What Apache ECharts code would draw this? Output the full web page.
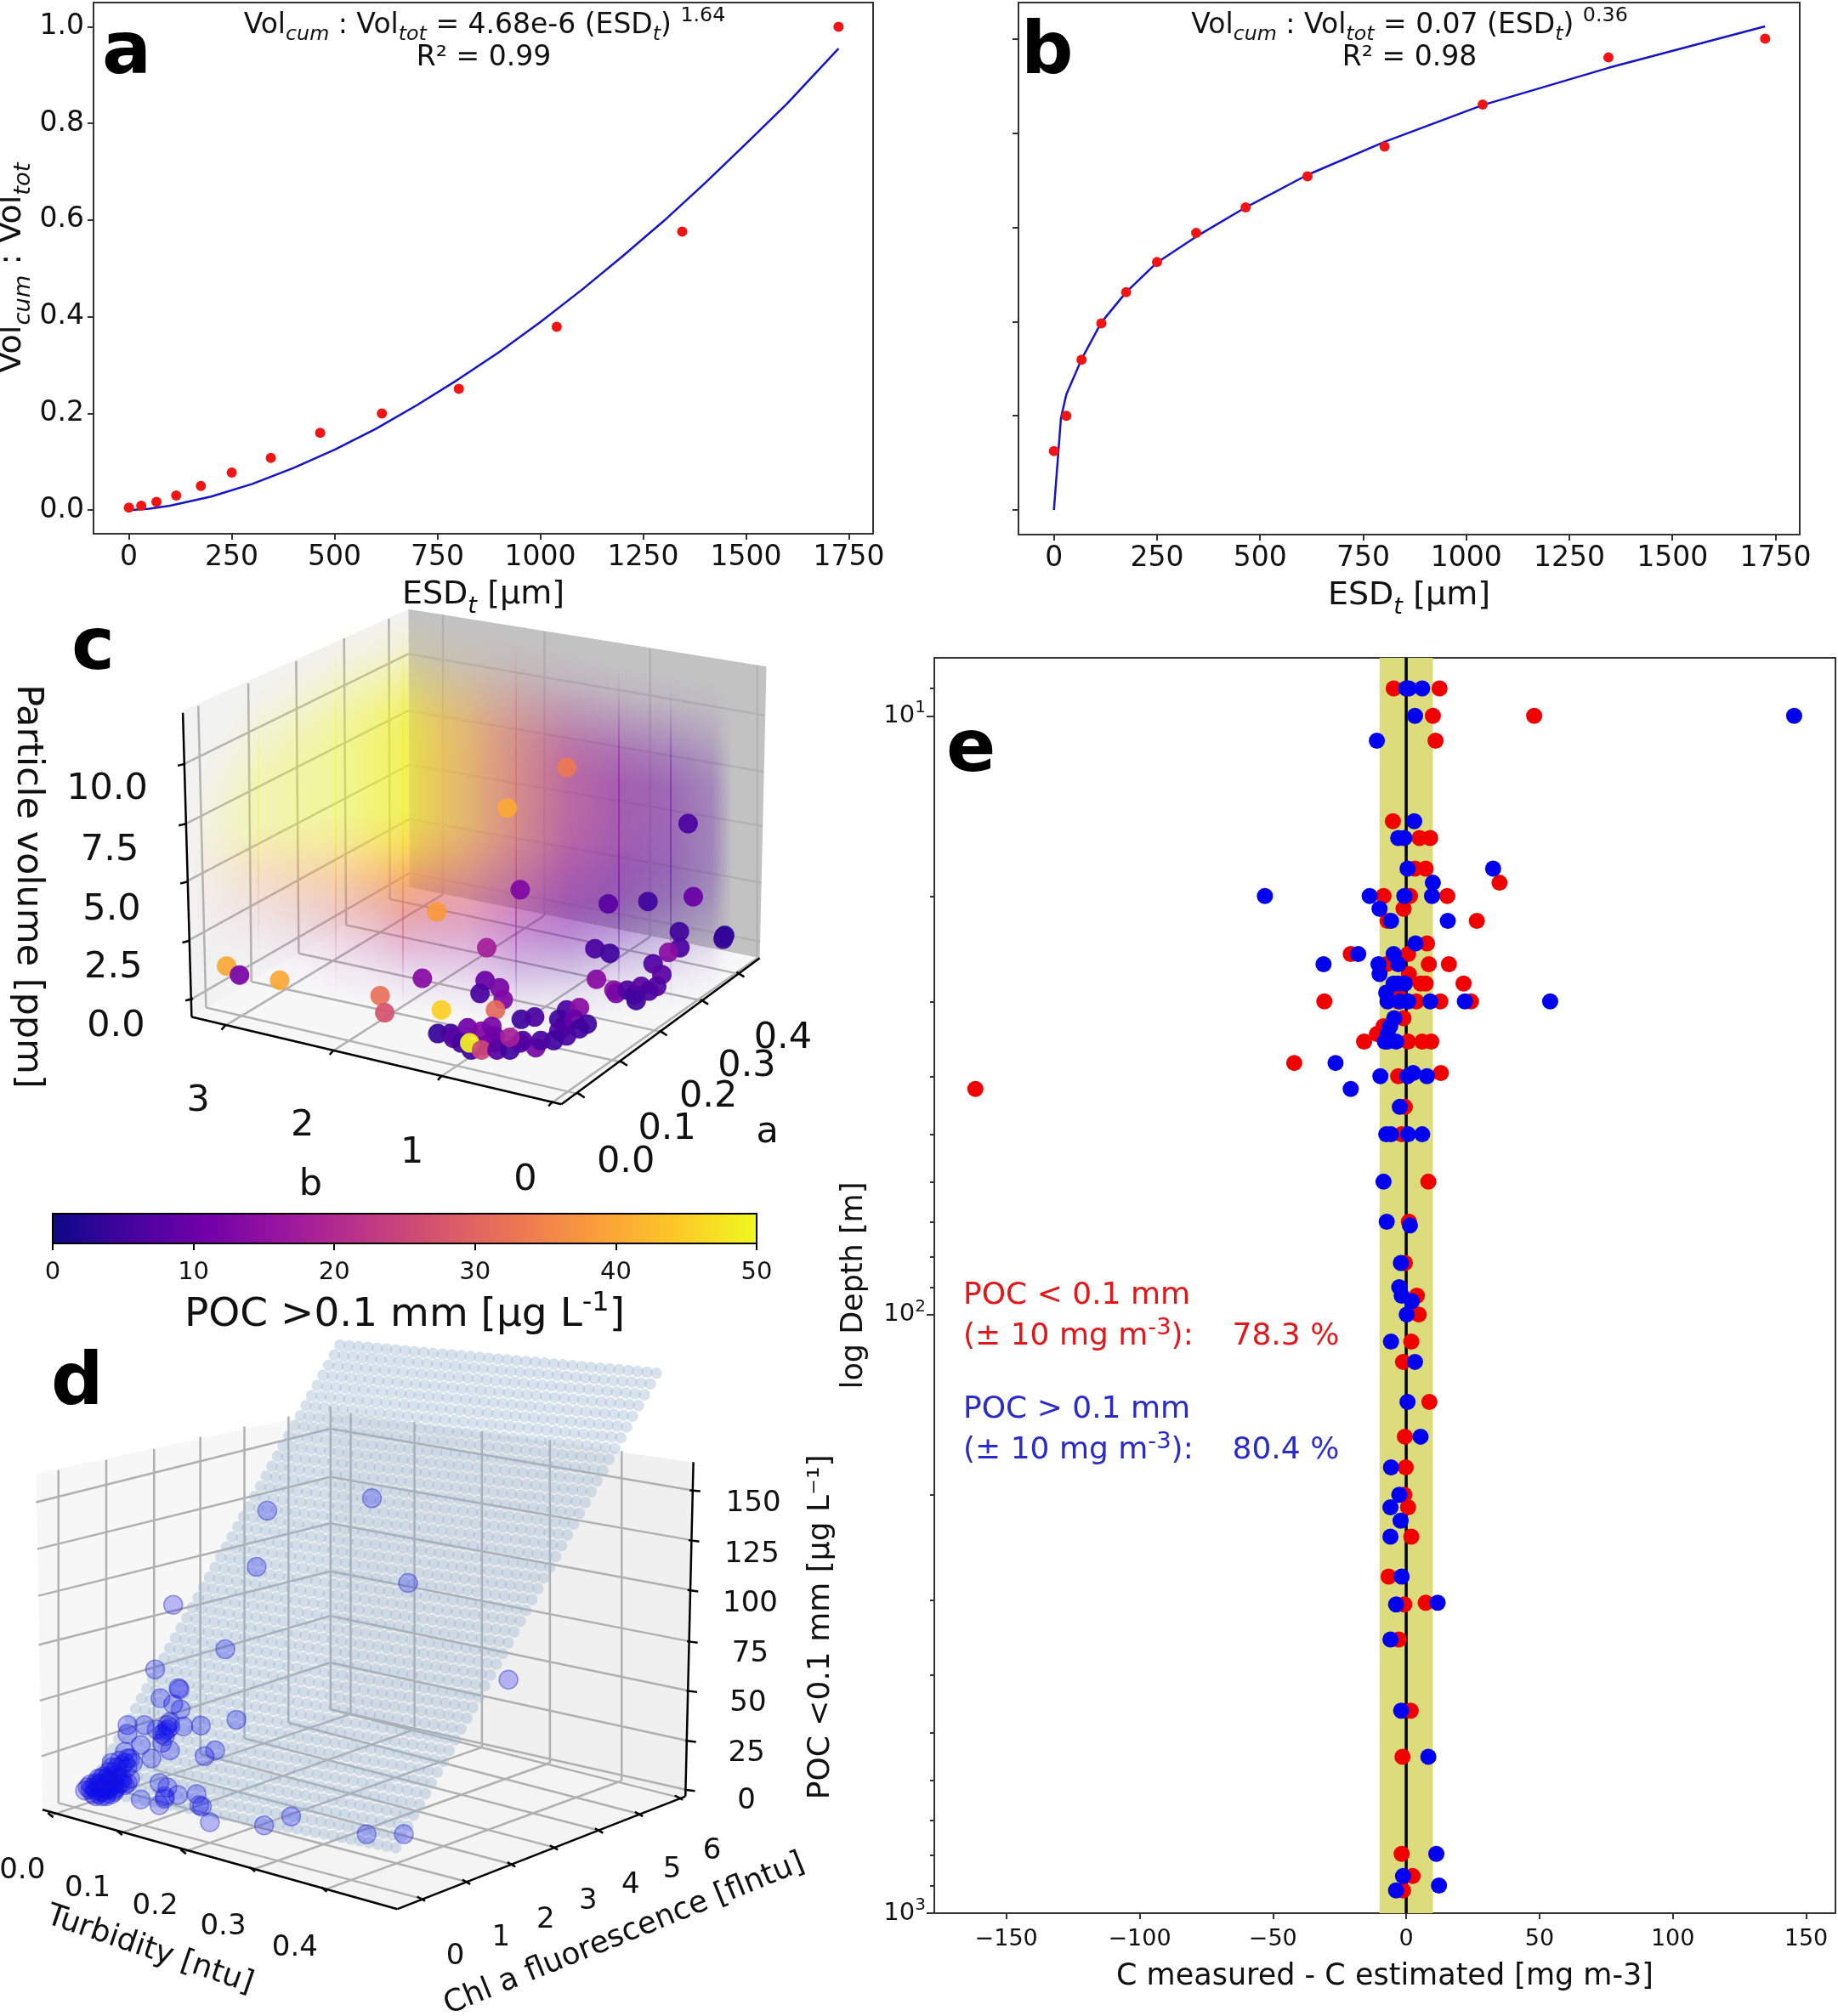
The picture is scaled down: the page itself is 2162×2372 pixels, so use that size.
<!DOCTYPE html>
<html><head><meta charset="utf-8">
<script src="https://cdn.jsdelivr.net/npm/echarts@6/dist/echarts.min.js"></script>
<style>html,body{margin:0;padding:0;background:#fff}#c{width:2162px;height:2372px}</style>
</head><body><div id="c"></div>
<script>
// ---------- panels a, b ----------
const esd = [0,30,67,115,175,250,345,465,615,802,1040,1345,1725];
const volA = [0.005,0.009,0.017,0.03,0.05,0.0775,0.108,0.16,0.2,0.251,0.379,0.576,1.0];
const volB = [0.125,0.2,0.319,0.396,0.462,0.526,0.588,0.642,0.708,0.771,0.86,0.96,1.0];
const fitAx = [0,50,100,200,300,400,500,600,700,800,900,1000,1100,1200,1300,1400,1500,1600,1725];
const fitAy = [0,0.003,0.009,0.028,0.054,0.087,0.125,0.168,0.217,0.27,0.327,0.389,0.455,0.525,0.598,0.676,0.758,0.841,0.955];
const fitBx = [0,17,30,67,115,175,250,345,465,615,802,1040,1345,1725];
const fitBy = [0,0.195,0.245,0.32,0.398,0.462,0.525,0.58,0.642,0.711,0.781,0.859,0.938,1.026];
const esdTicks = [0,250,500,750,1000,1250,1500,1750];
const ratioTicks = [0,0.2,0.4,0.6,0.8,1.0];
// ---------- panel e: [C measured - C estimated, depth] ----------
const redE = [[-4.7,9],[12.5,9],[10,10],[48,10],[11,11],[-5,15],[5,16],[9,16],[3.3,18],[7.3,18],[35,19],[-8.5,20],[1.4,20],[15.4,20],[-1,21],[-7,22],[26.5,22],[7.8,24],[-20.8,25],[0.7,25],[-7.5,26],[8.5,26],[16,26],[1,27],[5.4,28],[7.3,28],[21.5,28],[-3,29],[-30.7,30],[-3,30],[3.8,30],[12.8,30],[24.3,30],[-1,32],[-8.5,33],[-11,34],[-15.8,35],[0.7,35],[6,35],[9.4,35],[-42,38],[13,39.5],[-3,40],[-161.6,42],[-0.5,45],[-1.7,50],[8.3,60],[1,70],[-0.5,82],[4,93],[4.7,100],[1.9,111],[-1.2,120],[8.7,140],[-0.5,160],[-0.2,180],[-0.7,200],[0.7,210],[1.9,235],[-6.6,274],[7.3,303],[-0.7,305],[-2.8,349],[1.7,459],[-1.4,548],[-1.7,796],[2.4,867],[-1.2,916]];
const blueE = [[0,9],[1,9],[6,9],[3.3,10],[145.5,10],[-11,11],[3,15],[-3,16],[-0.7,16],[0.5,18],[32.6,18],[10,19],[-53,20],[-13.7,20],[-0.7,20],[9.7,20],[-10,21],[-5.7,22],[15.6,22],[3.5,24],[-18,25],[-4.7,25],[-31,26],[-10.4,26],[-3,26],[-10,27],[-4.7,28],[-0.5,28],[-3,28],[-7.5,29],[-7,30],[-2.4,30],[0.7,30],[9,30],[22,30],[54,30],[-4.5,32],[-6,33],[-7,34],[-8,35],[-7,35],[-3.8,35],[-26.5,38],[2.6,39.5],[-9.7,40],[0.5,40],[7.8,40],[-20.8,42],[-2.4,45],[-7.5,50],[-5.7,50],[0.7,50],[6,50],[-8.5,60],[-7.3,70],[1.4,71],[-2,82],[-2.6,90],[-1.7,93],[2.1,95],[0.2,100],[-5.7,111],[3.3,120],[0.5,140],[5.4,160],[-5.7,180],[-2.6,200],[-5.9,210],[-2.1,221],[-5.9,235],[-1.7,274],[11.8,303],[-3.8,305],[-5.9,349],[-1.9,459],[8.3,548],[11.3,796],[-1.2,867],[12.3,899],[-3.8,916]];
const diffTicks = [-150,-100,-50,0,50,100,150];
const depthMajor = [10,100,1000];
const depthMinor = [9,20,30,40,50,60,70,80,90,200,300,400,500,600,700,800,900];
// ---------- panel c: [view x, view y, POC > 0.1 mm] ----------
const pocC = [[1100,366,33],[985,452,40],[1336,485,6],[1010,625,13],[1181,655,8],[1258,650,5],[1346,640,10],[848,672,38],[1319,714,5],[1405,725,3],[1407,722,3],[1404,730,4],[945,748,18],[1155,750,6],[1184,760,5],[1320,748,6],[1298,758,14],[1268,782,7],[1285,805,8],[440,787,40],[465,806,12],[543,817,40],[820,813,14],[738,850,32],[747,886,27],[857,880,45],[942,818,10],[970,833,12],[977,858,13],[932,845,6],[962,880,31],[1158,815,14],[1192,838,14],[1196,845,12],[1218,838,7],[1232,848,5],[1245,830,8],[1235,860,5],[1260,840,6],[1275,830,7],[1012,900,5],[1038,895,6],[1100,880,6],[1125,875,14],[1085,900,5],[1095,915,5],[1115,900,10],[1085,925,7],[1140,910,5],[1125,920,5],[1100,935,6],[1075,945,5],[850,930,4],[875,930,5],[880,940,8],[908,918,11],[935,925,13],[955,915,12],[960,935,11],[960,950,10],[940,955,12],[895,950,5],[915,965,5],[912,950,49],[935,965,25],[965,965,8],[990,965,5],[1010,950,7],[1040,960,12],[1050,945,6],[1015,945,7],[990,938,18]];
const colorbarTicks = [0,10,20,30,40,50];
const plasma = ['#0d0887','#46039f','#7201a8','#9c179e','#bd3786','#d8576b','#ed7953','#fb9f3a','#fdca26','#f0f921'];
const cloudX = [380,500,650,780,900,1000,1100,1200,1300,1380,1420];
const cloudPOC = [50,50,50,49,41,30,21,15,11,9,7];
const cloudAlpha = [0.05,0.3,0.42,0.72,0.58,0.56,0.6,0.56,0.46,0.32,0];
const cloudTop = [300,170,70,40,70,90,120,150,170,180,190];
const cloudBottom = [800,800,860,880,900,930,920,900,880,860,820];
const cWalls = [
 [[355,245],[793,30],[795,620],[372,895],'#f2f2f2'],
 [[793,30],[1488,152],[1475,770],[795,620],'#c2c2c2'],
 [[372,895],[795,620],[1475,770],[1090,1080],'#f7f7f7']];
const cGrid = [
 [355,360,793,125],[358,487,793,245],[358,610,795,360],[362,735,795,475],[370,858,795,590],
 [793,125,1484,255],[793,245,1482,375],[795,360,1480,490],[795,475,1478,610],[795,590,1476,735],
 [385,235,400,875],[482,188,488,820],[575,140,580,760],[668,92,672,700],[755,50,757,645],
 [860,42,860,635],[1057,78,1057,680],[1262,114,1262,725],[1470,150,1470,770],
 [400,875,1130,1060],[488,820,1213,992],[580,760,1290,928],[672,700,1370,862],[757,645,1440,805],
 [435,915,860,635],[645,968,1057,680],[855,1022,1262,725],[1070,1078,1470,770]];
const cAxes = [[355,250,372,895],[372,895,1090,1080],[1090,1080,1475,770],
 [345,362,360,358],[347,489,362,485],[350,612,365,608],[354,737,369,733],[360,860,375,856],
 [430,922,438,912],[640,975,648,965],[850,1029,858,1019],[1065,1084,1073,1074],
 [1120,1055,1135,1066],[1203,988,1218,998],[1280,924,1295,934],[1360,858,1375,868],[1430,800,1445,810]];
const cLabels = [['10.0',208,413,0],['7.5',213,543,0],['5.0',217,668,0],['2.5',220,790,0],['0.0',225,916,0],
 ['3',385,1073,0],['2',587,1126,0],['1',800,1183,0],['0',1020,1241,0],['b',603,1252,0],
 ['0.0',1215,1204,0],['0.1',1295,1133,0],['0.2',1375,1064,0],['0.3',1450,1000,0],['0.4',1520,940,0],['a',1490,1140,0],
 ['Particle volume [ppm]',53,618,-1.5708]];
// ---------- panel d: [view x, view y] ----------
const pocD = [[700,406],[503,434],[483,560],[768,596],[326,645],[424,745],[292,790],[957,813],[336,832],[338,835],[302,855],[326,868],[340,880],[445,903],[378,916],[345,918],[320,908],[315,925],[240,915],[272,915],[240,935],[295,925],[310,940],[305,955],[265,960],[235,975],[320,972],[405,972],[385,985],[285,990],[245,990],[225,995],[210,1000],[240,1010],[220,1025],[245,1035],[190,1035],[205,1050],[180,1060],[215,1060],[235,1050],[160,1062],[200,1075],[175,1070],[190,1050],[205,1040],[230,1045],[300,1045],[315,1055],[335,1072],[310,1080],[265,1082],[370,1070],[300,1095],[375,1095],[395,1133],[497,1140],[548,1120],[690,1160],[760,1160],[380,1098],[310,1075],[195,1030],[185,1048],[170,1048],[210,1070],[225,1045],[200,1060],[190,1065],[215,1040],[250,1000],[220,1010],[205,1020],[195,1055],[180,1045],[210,1050],[200,1045],[225,1030],[235,1000],[315,915],[305,935],[192,1075],[180,1075],[165,1055],[200,1035],[215,1050],[190,1045],[205,1060],[185,1058],[175,1055],[195,1065],[220,1055],[230,1035],[240,1045],[205,1030],[215,1020],[230,1005],[240,990],[210,1010],[185,1035],[195,1050],[205,1055],[200,1070],[215,1065],[170,1060],[185,1070],[320,920],[310,930]];
const planeCorners = [[640,62],[1235,125],[745,1190],[170,1060]];
const dWalls = [
 [[68,350],[622,210],[622,880],[80,1105],'#f7f7f7'],
 [[622,210],[1305,325],[1290,1075],[622,880],'#f0f0f0'],
 [[80,1105],[622,880],[1290,1075],[748,1328],'#f4f4f4']];
const dGrid = [
 [68,415,622,250],[70,520,622,358],[72,625,622,462],[73,735,622,570],[75,860,622,670],[78,985,622,775],
 [622,250,1303,388],[622,358,1301,500],[622,462,1299,612],[622,570,1297,727],[622,670,1295,838],[622,775,1293,950],[622,880,1291,1060],
 [110,343,110,1090],[200,320,200,1055],[290,295,290,1015],[377,268,377,980],[460,245,460,945],[543,222,543,910],[622,200,622,880],
 [660,215,660,890],[780,235,780,925],[907,255,907,965],[1035,275,1035,1000],[1170,300,1170,1040],
 [95,1118,660,890],[225,1158,780,925],[345,1200,907,965],[475,1240,1035,1000],[610,1285,1170,1040],
 [110,1090,795,1305],[200,1055,880,1267],[290,1015,965,1228],[377,980,1045,1190],[460,945,1130,1152],[543,910,1205,1115],[622,880,1280,1078]];
const dAxes = [[80,1105,748,1328],[748,1328,1290,1075],[1305,325,1290,1075],
 [1298,388,1318,390],[1296,500,1316,503],[1294,612,1314,615],[1293,727,1313,730],[1292,838,1312,841],[1290,950,1310,953],[1288,1060,1308,1063],
 [90,1112,100,1122],[220,1152,230,1162],[340,1194,350,1204],[470,1234,480,1244],[605,1279,615,1289],
 [785,1300,800,1310],[870,1262,885,1272],[955,1223,970,1233],[1035,1185,1050,1195],[1120,1147,1135,1157],[1195,1110,1210,1120],[1270,1073,1285,1083]];
const dLabels = [['150',1418,419,0,34],['125',1415,532,0,34],['100',1412,644,0,34],['75',1412,756,0,34],['50',1408,866,0,34],['25',1405,979,0,34],['0',1405,1086,0,34],
 ['0.0',42,1243,0,34],['0.1',165,1283,0,34],['0.2',292,1323,0,34],['0.3',420,1368,0,34],['0.4',555,1415,0,34],
 ['Turbidity [ntu]',282,1420,-0.33,36],
 ['0',857,1435,0,34],['1',943,1393,0,34],['2',1027,1353,0,34],['3',1107,1311,0,34],['4',1187,1275,0,34],['5',1265,1240,0,34],['6',1340,1198,0,34],
 ['Chl a fluorescence [flntu]',1175,1385,0.385,36],
 ['POC <0.1 mm [µg L⁻¹]',1545,695,1.5708,36]];

// ---------- helpers ----------
const FF = '"DejaVu Sans"';
const TXT = '#111';
function plasmaColor(v, alpha){
  const t = Math.max(0,Math.min(1,v/50))*(plasma.length-1), i=Math.min(plasma.length-2,Math.floor(t)), f=t-i;
  const h=c=>[1,3,5].map(k=>parseInt(c.substr(k,2),16));
  const a=h(plasma[i]), b=h(plasma[i+1]);
  return 'rgba('+a.map((x,k)=>Math.round(x+(b[k]-x)*f)).join(',')+','+alpha.toFixed(3)+')';
}
function segSeries(g,lines,color,width,z){
  return {type:'custom',xAxisIndex:g,yAxisIndex:g,z,silent:true,coordinateSystem:'cartesian2d',data:lines,
    encode:{x:[0,2],y:[1,3]},clip:false,
    renderItem:(p,api)=>{const a=api.coord([api.value(0),api.value(1)]),b=api.coord([api.value(2),api.value(3)]);
      return {type:'line',shape:{x1:a[0],y1:a[1],x2:b[0],y2:b[1]},style:{stroke:color,lineWidth:width}};}};
}
function wallSeries(g,walls,z){
  return {type:'custom',xAxisIndex:g,yAxisIndex:g,z,silent:true,data:walls.map((w,i)=>[i]),clip:false,
    renderItem:(p,api)=>{const w=walls[api.value(0)];
      return {type:'polygon',shape:{points:w.slice(0,4).map(q=>api.coord(q))},style:{fill:w[4]}};}};
}
function textSeries(g,labels,size,z){
  return {type:'custom',xAxisIndex:g,yAxisIndex:g,z,silent:true,clip:false,data:labels.map((l,i)=>[l[1],l[2],i]),
    renderItem:(p,api)=>{const l=labels[api.value(2)],c=api.coord([l[1],l[2]]);
      return {type:'text',x:c[0],y:c[1],rotation:l[3],style:{text:l[0],fill:TXT,font:(l[4]||size)+'px '+FF,align:'center',verticalAlign:'middle'}};}};
}
const cloudSeries = {type:'custom',xAxisIndex:3,yAxisIndex:3,z:4,silent:true,clip:false,
  data:cloudX.slice(0,-1).map((x,i)=>[x,i]),
  renderItem:(p,api)=>{
    const i=api.value(1),x0=cloudX[i],x1=cloudX[i+1],kids=[];
    const L=(a,f)=>a[i]+(a[i+1]-a[i])*f;
    const px0=Math.round(api.coord([x0,0])[0]),px1=Math.round(api.coord([x1,0])[0]);
    for(let px=px0;px<px1;px+=3){
      const f=(px-px0)/(px1-px0),pv=L(cloudPOC,f),al=L(cloudAlpha,f),top=L(cloudTop,f),bot=L(cloudBottom,f);
      const y0=api.coord([0,top])[1],y1=api.coord([0,bot])[1];
      const stops=[];
      for(let k=0;k<=12;k++){
        const t=k/12,yy=top+(bot-top)*t;
        const fadeT=Math.min(1,(yy-top)/260),fadeB=Math.min(1,(bot-yy)/300);
        const s=v=>v*v*(3-2*v);
        stops.push({offset:t,color:plasmaColor(pv*(1-Math.max(0,yy-500)*0.0022),al*s(fadeT)*s(fadeB))});
      }
      kids.push({type:'rect',shape:{x:px,y:y0,width:3,height:y1-y0},
        style:{fill:new echarts.graphic.LinearGradient(0,0,0,1,stops)}});
    }
    return {type:'group',children:kids};
  }};
const planeRows=45, planeCols=35;
const planeSeries = {type:'custom',xAxisIndex:5,yAxisIndex:5,z:4,silent:true,clip:false,data:[[0]],
  renderItem:(p,api)=>{
    const c=planeCorners.map(q=>api.coord(q)),kids=[];
    for(let r=0;r<planeRows;r++)for(let k=0;k<planeCols;k++){
      const v=r/(planeRows-1),u=k/(planeCols-1);
      const x=(1-v)*((1-u)*c[0][0]+u*c[1][0])+v*((1-u)*c[3][0]+u*c[2][0]);
      const y=(1-v)*((1-u)*c[0][1]+u*c[1][1])+v*((1-u)*c[3][1]+u*c[2][1]);
      kids.push({type:'circle',shape:{cx:x,cy:y,r:6.8},style:{fill:'rgba(150,180,205,0.38)'}});
    }
    return {type:'group',children:kids};
  }};
const colorbarSeries = {type:'custom',xAxisIndex:4,yAxisIndex:4,z:3,silent:true,data:[[0,50]],encode:{x:[0,1]},clip:false,
  renderItem:(p,api)=>{const a=api.coord([0,0]),b=api.coord([50,1]);
    return {type:'rect',shape:{x:a[0],y:b[1],width:b[0]-a[0],height:a[1]-b[1]},
      style:{stroke:'#000',lineWidth:2,fill:new echarts.graphic.LinearGradient(0,0,1,0,plasma.map((c,i)=>({offset:i/(plasma.length-1),color:c})))}};}};

const richMain = s=>({
  n:{fontFamily:FF,fontSize:s,fontWeight:'normal',color:TXT,lineHeight:s*1.4},
  i:{fontFamily:FF,fontSize:s*0.72,fontWeight:'normal',fontStyle:'italic',color:TXT,verticalAlign:'bottom',lineHeight:s*1.22},
  u:{fontFamily:FF,fontSize:s*0.72,fontWeight:'normal',color:TXT,verticalAlign:'top',lineHeight:s*1.3}
});
const richC = (s,col)=>({
  n:{fontFamily:FF,fontSize:s,fontWeight:'normal',color:col,lineHeight:s*1.3},
  u:{fontFamily:FF,fontSize:s*0.76,fontWeight:'normal',color:col,verticalAlign:'top',lineHeight:s*1.3}
});
function title(left,top,text,size,rich){
  return {left,top,text,padding:0,textAlign:'center',z:20,
    textStyle:{fontFamily:FF,fontSize:size,fontWeight:'normal',color:TXT,rich:rich||{}}};
}
function letter(l,left,baseline){
  return {left,top:baseline-73,text:l,padding:0,z:20,textStyle:{fontFamily:FF,fontSize:86,fontWeight:'bold',color:'#000',lineHeight:100}};
}
function xEsd(g){
  return {gridIndex:g,type:'value',min:-86,max:1809,splitLine:{show:false},
    axisLine:{show:false,onZero:false},axisTick:{customValues:esdTicks,length:7,lineStyle:{color:'#333',width:2}},
    axisLabel:{customValues:esdTicks,fontFamily:FF,fontSize:33,color:TXT,margin:12,hideOverlap:false,formatter:v=>String(v)},
    name:'{n|ESD}{i|t}{n| [µm]}',nameLocation:'middle',nameGap:46,nameTextStyle:{rich:richMain(38)}};
}
function yRatio(g,minv,maxv,labels){
  return {gridIndex:g,type:'value',min:minv,max:maxv,splitLine:{show:false},axisLine:{show:false,onZero:false},
    axisTick:{customValues:ratioTicks,length:7,lineStyle:{color:'#333',width:2}},
    axisLabel:{show:labels,customValues:ratioTicks,fontFamily:FF,fontSize:33,color:TXT,margin:11,formatter:v=>Number(v).toFixed(1)},
    name:labels?'{n|Vol}{i|cum}{n| : Vol}{i|tot}':'',nameLocation:'middle',nameGap:69,nameRotate:90,nameTextStyle:{rich:richMain(38)}};
}
const hiddenX=g=>({gridIndex:g,type:'value',min:0,max:1568,show:false});
const hiddenY=g=>({gridIndex:g,type:'value',min:0,max:1568,inverse:true,show:false});
const supTen = v=>{const e=Math.round(Math.log10(v));return '{b|10}{e|'+e+'}';};

const option = {
  animation:false,backgroundColor:'#fff',
  title:[
    title(570,7,'{n|Vol}{i|cum}{n| : Vol}{i|tot}{n| = 4.68e-6 (ESD}{i|t}{n|) }{u|1.64}',33,richMain(33)),
    title(569,52,'R² = 0.99',33),
    title(1658,7,'{n|Vol}{i|cum}{n| : Vol}{i|tot}{n| = 0.07 (ESD}{i|t}{n|) }{u|0.36}',33,richMain(33)),
    title(1658,52,'R² = 0.98',33),
    letter('a',120,87),letter('b',1201,87),letter('c',84,788),letter('d',60,1653),letter('e',1113,908),
    {left:1133,top:1501,padding:0,z:20,text:'{n|POC < 0.1 mm}',textStyle:{rich:richC(36,'#e3161a')}},
    {left:1133,top:1549,padding:0,z:20,text:'{n|(± 10 mg m}{u|-3}{n|):    78.3 %}',textStyle:{rich:richC(36,'#e3161a')}},
    {left:1133,top:1635,padding:0,z:20,text:'{n|POC > 0.1 mm}',textStyle:{rich:richC(36,'#2b2bcc')}},
    {left:1133,top:1683,padding:0,z:20,text:'{n|(± 10 mg m}{u|-3}{n|):    80.4 %}',textStyle:{rich:richC(36,'#2b2bcc')}}
  ],
  grid:[
    {left:110,top:3,width:917,height:625,show:true,borderColor:'#333',borderWidth:2,outerBoundsMode:'none'},
    {left:1198,top:3,width:919,height:626,show:true,borderColor:'#333',borderWidth:2,outerBoundsMode:'none'},
    {left:1099,top:774,width:1060,height:1477,show:true,borderColor:'#333',borderWidth:2,outerBoundsMode:'none'},
    {left:0,top:700,width:950,height:870,outerBoundsMode:'none'},
    {left:62,top:1428,width:828,height:35,outerBoundsMode:'none'},
    {left:0,top:1550,width:980,height:822,outerBoundsMode:'none'}
  ],
  xAxis:[
    xEsd(0),xEsd(1),
    {gridIndex:2,type:'value',min:-177,max:161,splitLine:{show:false},axisLine:{show:false,onZero:false},
      axisTick:{customValues:diffTicks,length:7,lineStyle:{color:'#333',width:2}},
      axisLabel:{customValues:diffTicks,fontFamily:FF,fontSize:27,color:TXT,margin:17,hideOverlap:false,formatter:v=>String(v).replace('-','−')},
      name:'C measured - C estimated [mg m-3]',nameLocation:'middle',nameGap:57,nameTextStyle:{fontFamily:FF,fontSize:35,color:TXT}},
    hiddenX(3),
    {gridIndex:4,type:'value',min:0,max:50,splitLine:{show:false},axisLine:{show:false,onZero:false},
      axisTick:{customValues:colorbarTicks,length:8,lineStyle:{color:'#000',width:2}},
      axisLabel:{customValues:colorbarTicks,fontFamily:FF,fontSize:29,color:TXT,margin:20,hideOverlap:false},
      name:'{n|POC >0.1 mm [µg L}{u|-1}{n|]}',nameLocation:'middle',nameGap:55,
      nameTextStyle:{rich:{n:{fontFamily:FF,fontSize:47,color:TXT,lineHeight:60},u:{fontFamily:FF,fontSize:32,color:TXT,verticalAlign:'top',lineHeight:58}}}},
    hiddenX(5)
  ],
  yAxis:[
    yRatio(0,-0.049,1.05,true),yRatio(1,-0.052,1.0765,false),
    {gridIndex:2,type:'log',logBase:10,min:8,max:1000,inverse:true,splitLine:{show:false},axisLine:{show:false,onZero:false},
      axisTick:{customValues:depthMajor,length:9,lineStyle:{color:'#333',width:2}},
      axisLabel:{customValues:depthMajor,color:TXT,margin:10,hideOverlap:false,formatter:supTen,
        rich:{b:{fontFamily:FF,fontSize:29,color:TXT,lineHeight:38},e:{fontFamily:FF,fontSize:20,color:TXT,verticalAlign:'top',lineHeight:38}}},
      name:'log Depth [m]',nameLocation:'middle',nameGap:77,nameRotate:90,nameTextStyle:{fontFamily:FF,fontSize:35,color:TXT}},
    hiddenY(3),
    {gridIndex:4,type:'value',min:0,max:1,show:false},
    hiddenY(5),
    {gridIndex:2,type:'log',logBase:10,min:8,max:1000,inverse:true,position:'left',splitLine:{show:false},axisLine:{show:false,onZero:false},
      axisTick:{customValues:depthMinor,length:5,lineStyle:{color:'#333',width:2}},axisLabel:{show:false}}
  ],
  visualMap:[{show:false,min:0,max:50,dimension:2,seriesIndex:12,inRange:{color:plasma}}],
  series:[
    {type:'line',xAxisIndex:0,yAxisIndex:0,data:fitAx.map((x,i)=>[x,fitAy[i]]),showSymbol:false,smooth:false,lineStyle:{color:'#1414c8',width:2.5},z:3},
    {type:'scatter',xAxisIndex:0,yAxisIndex:0,data:esd.map((x,i)=>[x,volA[i]]),symbolSize:12,itemStyle:{color:'#f01414',opacity:1},z:4},
    {type:'line',xAxisIndex:1,yAxisIndex:1,data:fitBx.map((x,i)=>[x,fitBy[i]]),showSymbol:false,smooth:false,lineStyle:{color:'#1414c8',width:2.5},z:3},
    {type:'scatter',xAxisIndex:1,yAxisIndex:1,data:esd.map((x,i)=>[x,volB[i]]),symbolSize:12,itemStyle:{color:'#f01414',opacity:1},z:4},
    {type:'line',xAxisIndex:2,yAxisIndex:2,data:[],z:1,markArea:{silent:true,itemStyle:{color:'#dcdc7c',opacity:1},data:[[{xAxis:-10},{xAxis:10}]]}},
    {type:'line',xAxisIndex:2,yAxisIndex:2,data:[[0,8],[0,1000]],showSymbol:false,lineStyle:{color:'#000',width:3.5},z:2},
    {type:'scatter',xAxisIndex:2,yAxisIndex:2,data:redE,symbolSize:19,itemStyle:{color:'#f00000',opacity:1},z:3},
    {type:'scatter',xAxisIndex:2,yAxisIndex:2,data:blueE,symbolSize:19,itemStyle:{color:'#0000ee',opacity:1},z:4},
    wallSeries(3,cWalls,1),
    segSeries(3,cGrid,'#b2b2b2',2.5,2),
    segSeries(3,cAxes,'#000',2.5,3),
    cloudSeries,
    {type:'scatter',xAxisIndex:3,yAxisIndex:3,data:pocC,symbolSize:23,itemStyle:{opacity:0.93},z:5,clip:false},
    textSeries(3,cLabels,43,6),
    colorbarSeries,
    wallSeries(5,dWalls,1),
    segSeries(5,dGrid,'#b0b0b0',2.5,2),
    segSeries(5,dAxes,'#000',2.5,3),
    planeSeries,
    {type:'scatter',xAxisIndex:5,yAxisIndex:5,data:pocD,symbolSize:22,clip:false,
      itemStyle:{color:'rgba(10,10,245,0.27)',borderColor:'rgba(30,30,200,0.4)',borderWidth:1.5,opacity:1},z:5},
    textSeries(5,dLabels,34,6)
  ]
};
const chart = echarts.init(document.getElementById('c'),null,{renderer:'canvas',width:2162,height:2372});
chart.setOption(option);
</script></body></html>
